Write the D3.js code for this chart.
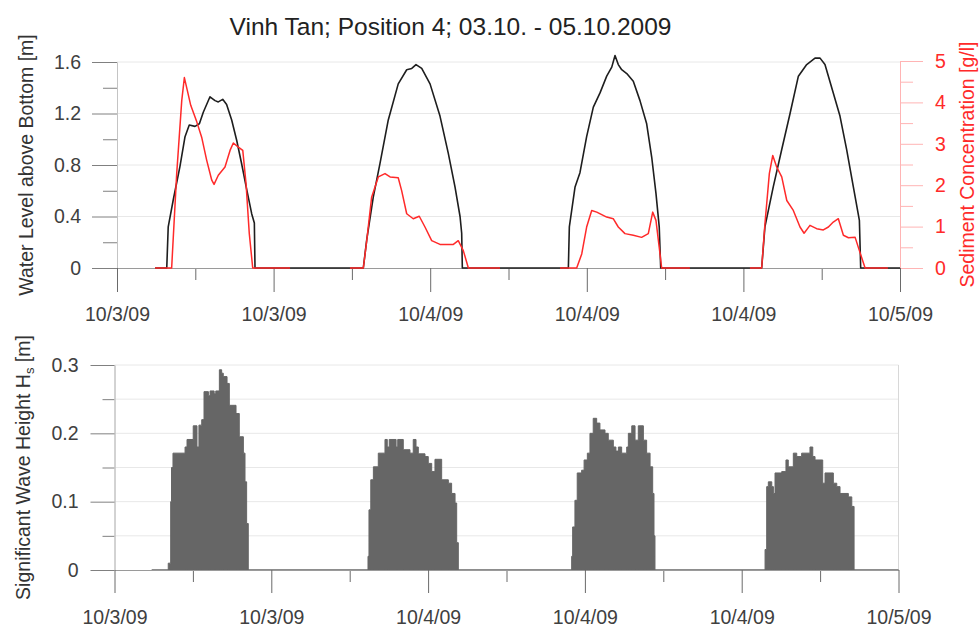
<!DOCTYPE html>
<html>
<head>
<meta charset="utf-8">
<script src="https://cdn.jsdelivr.net/npm/d3@7"></script>
<style>
  body { margin: 0; background: #fff; }
  text { font-family: "Liberation Sans", Arial, sans-serif; }
</style>
</head>
<body>
<svg id="chart" width="979" height="626"></svg>
<script>
// Time is given in hours from the left end of the time axis (axis spans 48 h).
const hourTicks = [0, 9.6, 19.2, 28.8, 38.4, 48];
const hourMinorTicks = [4.8, 14.4, 24, 33.6, 43.2];
const dateLabels = ["10/3/09", "10/3/09", "10/4/09", "10/4/09", "10/4/09", "10/5/09"];

const levelTicks = [0, 0.4, 0.8, 1.2, 1.6];
const levelMinorTicks = [0.2, 0.6, 1.0, 1.4];
const sedimentTicks = [0, 1, 2, 3, 4, 5];
const sedimentMinorTicks = [0.5, 1.5, 2.5, 3.5, 4.5];
const waveTicks = [0, 0.1, 0.2, 0.3];
const waveMinorTicks = [0.05, 0.15, 0.25];

// Water level above bottom [m]
const levelHours = [
  2.33, 3.05, 3.14, 3.45, 3.86, 4.17, 4.43, 4.78, 5.05, 5.29, 5.70, 6.01, 6.21, 6.48, 6.72, 7.03, 7.34, 7.64, 7.95, 8.26, 8.42, 8.46,
  15.10, 15.31, 15.71, 16.12, 16.63, 17.24, 17.76, 18.07, 18.33, 18.68, 19.19, 19.80, 20.31, 20.72, 21.03, 21.13, 21.17,
  27.67, 27.73, 28.08, 28.38, 28.79, 29.20, 29.61, 30.02, 30.33, 30.53, 30.73, 30.94, 31.25, 31.65, 32.06, 32.47, 32.78, 33.04, 33.24, 33.33,
  39.52, 39.72, 40.23, 40.75, 41.26, 41.77, 42.28, 42.79, 43.10, 43.40, 43.91, 44.32, 44.73, 45.14, 45.51, 45.59, 48.0
];
const levelValues = [
  0, 0, 0.32, 0.53, 0.79, 1.02, 1.11, 1.10, 1.12, 1.21, 1.33, 1.30, 1.29, 1.31, 1.27, 1.15, 0.99, 0.81, 0.61, 0.42, 0.35, 0,
  0, 0.22, 0.55, 0.81, 1.15, 1.43, 1.54, 1.55, 1.58, 1.55, 1.43, 1.18, 0.89, 0.63, 0.40, 0.27, 0,
  0, 0.32, 0.63, 0.74, 1.02, 1.25, 1.36, 1.49, 1.56, 1.65, 1.58, 1.54, 1.51, 1.45, 1.30, 1.12, 0.86, 0.58, 0.32, 0,
  0, 0.32, 0.63, 0.92, 1.20, 1.49, 1.58, 1.63, 1.63, 1.58, 1.36, 1.18, 0.92, 0.63, 0.37, 0, 0
];

// Sediment concentration [g/l]; null marks gaps in the record
const sedimentHours = [
  2.33, 3.35, 3.66, 3.97, 4.13, 4.31, 4.52, 4.89, 5.19, 5.50, 5.81, 5.95, 6.21, 6.62, 6.93, 7.13, 7.44, 7.71, 7.91, 8.11, 8.32, 10.61, 10.7,
  14.28, 15.10, 15.31, 15.61, 16.02, 16.43, 16.74, 17.24, 17.45, 17.76, 18.16, 18.53, 18.88, 19.29, 19.80, 20.62, 20.92, 21.23, 21.54, 23.48, 23.6,
  27.16, 28.18, 28.49, 28.79, 29.10, 29.41, 30.02, 30.42, 30.73, 31.14, 31.65, 32.16, 32.57, 32.84, 33.04, 33.24, 33.39, 35.12, 35.2,
  38.80, 39.52, 39.72, 39.99, 40.20, 40.44, 40.75, 41.06, 41.46, 41.87, 42.12, 42.48, 42.89, 43.30, 43.61, 43.91, 44.22, 44.53, 44.84, 45.25, 45.51, 45.86, 47.26
];
const sedimentValues = [
  0, 0, 2.28, 4.05, 4.60, 4.29, 3.93, 3.53, 3.16, 2.60, 2.12, 2.02, 2.24, 2.44, 2.84, 3.02, 2.92, 2.84, 2.04, 0.83, 0, 0, null,
  0, 0, 0.66, 1.71, 2.20, 2.28, 2.20, 2.18, 1.87, 1.31, 1.19, 1.25, 0.99, 0.66, 0.57, 0.57, 0.66, 0.42, 0, 0, null,
  0, 0, 0.34, 0.99, 1.39, 1.35, 1.23, 1.19, 0.99, 0.83, 0.79, 0.74, 0.83, 1.35, 1.15, 0.50, 0, 0, null,
  0, 0, 1.07, 2.28, 2.72, 2.44, 2.20, 1.63, 1.39, 0.99, 0.84, 1.03, 0.95, 0.92, 0.99, 1.11, 1.19, 0.79, 0.73, 0.74, 0.42, 0, 0
];

// Significant wave height Hs [m], one value per interval starting at the given hour
const waveHours = [
  2.28, 3.29, 3.44, 3.49, 3.58, 4.32, 4.44, 4.82, 5.05, 5.17, 5.34, 5.48, 5.75, 5.85, 6.10, 6.20, 6.42, 6.56, 6.66, 6.89, 7.03, 7.44, 7.64, 7.89, 7.99, 8.09, 8.19,
  15.52, 15.58, 15.69, 15.85, 16.15, 16.56, 16.70, 16.82, 17.24, 17.34, 17.68, 18.09, 18.29, 18.46, 18.60, 19.01, 19.21, 19.42, 19.62, 20.03, 20.44, 20.64, 20.85, 20.95, 21.05,
  27.99, 28.05, 28.19, 28.33, 28.60, 28.75, 28.95, 29.11, 29.31, 29.52, 29.72, 30.03, 30.23, 30.54, 30.70, 30.85, 31.05, 31.36, 31.46, 31.67, 31.87, 32.07, 32.38, 32.58, 32.79, 32.95, 33.03, 33.09,
  39.83, 39.93, 40.03, 40.24, 40.34, 40.44, 40.85, 41.11, 41.25, 41.56, 41.77, 42.07, 42.58, 42.75, 42.89, 43.36, 43.50, 44.01, 44.22, 44.42, 44.93, 45.14, 45.28, 48.0
];
const waveValues = [
  0, 0.01, 0.10, 0.15, 0.171, 0.18, 0.191, 0.211, 0.18, 0.212, 0.22, 0.261, 0.255, 0.262, 0.258, 0.262, 0.293, 0.288, 0.283, 0.273, 0.241, 0.229, 0.195, 0.171, 0.129, 0.068, 0,
  0.02, 0.088, 0.132, 0.151, 0.171, 0.191, 0.18, 0.191, 0.18, 0.191, 0.176, 0.171, 0.191, 0.18, 0.17, 0.166, 0.156, 0.144, 0.162, 0.132, 0.127, 0.112, 0.098, 0.04, 0,
  0.02, 0.063, 0.102, 0.142, 0.146, 0.161, 0.171, 0.20, 0.222, 0.215, 0.205, 0.20, 0.19, 0.18, 0.174, 0.18, 0.171, 0.18, 0.20, 0.211, 0.19, 0.211, 0.19, 0.171, 0.151, 0.112, 0.05, 0,
  0.03, 0.122, 0.129, 0.122, 0.112, 0.142, 0.144, 0.161, 0.151, 0.171, 0.166, 0.171, 0.18, 0.166, 0.161, 0.127, 0.142, 0.127, 0.122, 0.112, 0.107, 0.093, 0, 0
];

const levelData = levelHours.map((h, i) => ({ h, v: levelValues[i] }));
const sedimentData = sedimentHours.map((h, i) => ({ h, v: sedimentValues[i] }));
const waveData = waveHours.map((h, i) => ({ h, v: waveValues[i] }));

const svg = d3.select("#chart");
svg.append("rect").attr("width", 979).attr("height", 626).attr("fill", "#fff");

const FS = 19.5;
const GRID = "#e8e8e8";
const AXIS_LINE = "#c4c4c4";
const TICK = "#808080";
const LABEL = "#404040";
const RED = "#ff2a2a";
const PINK = "#ffb4b4";

function styleAxis(g, lineColor, tickColor, textColor) {
  g.select(".domain").attr("stroke", lineColor);
  g.selectAll(".tick line").attr("stroke", tickColor);
  g.selectAll(".tick text").attr("fill", textColor).attr("font-size", FS)
    .attr("font-family", '"Liberation Sans", Arial, sans-serif');
}
const numFmt = d => d === 0 ? "0" : String(d);

// ---------- Top panel: water level and sediment concentration ----------
const topX = d3.scaleLinear().domain([0, 48]).range([117, 900]);
const yLevel = d3.scaleLinear().domain([0, 1.6]).range([268, 62]);
const ySed = d3.scaleLinear().domain([0, 5]).range([268, 61]);

svg.append("g").selectAll("line").data(levelTicks.filter(d => d > 0)).join("line")
  .attr("x1", topX(0)).attr("x2", topX(48))
  .attr("y1", d => yLevel(d)).attr("y2", d => yLevel(d))
  .attr("stroke", GRID).attr("stroke-width", 1);

// left axis
svg.append("g").attr("transform", `translate(${topX(0)},0)`)
  .call(d3.axisLeft(yLevel).tickValues(levelMinorTicks).tickSize(14).tickSizeOuter(0).tickFormat(""))
  .call(g => styleAxis(g, AXIS_LINE, TICK, LABEL));
svg.append("g").attr("transform", `translate(${topX(0)},0)`)
  .call(d3.axisLeft(yLevel).tickValues(levelTicks).tickSize(25).tickSizeOuter(0).tickPadding(11).tickFormat(numFmt))
  .call(g => styleAxis(g, AXIS_LINE, TICK, LABEL));

// right axis
svg.append("g").attr("transform", `translate(${topX(48)},0)`)
  .call(d3.axisRight(ySed).tickValues(sedimentMinorTicks).tickSize(13).tickSizeOuter(0).tickFormat(""))
  .call(g => styleAxis(g, PINK, PINK, RED));
svg.append("g").attr("transform", `translate(${topX(48)},0)`)
  .call(d3.axisRight(ySed).tickValues(sedimentTicks).tickSize(23).tickSizeOuter(0).tickPadding(12).tickFormat(numFmt))
  .call(g => styleAxis(g, PINK, PINK, RED));

// bottom time axis
svg.append("g").attr("transform", `translate(0,${yLevel(0)})`)
  .call(d3.axisBottom(topX).tickValues(hourMinorTicks).tickSize(12).tickSizeOuter(0).tickFormat(""))
  .call(g => styleAxis(g, "#9a9a9a", "#6a6a6a", LABEL));
svg.append("g").attr("transform", `translate(0,${yLevel(0)})`)
  .call(d3.axisBottom(topX).tickValues(hourTicks).tickSize(24).tickSizeOuter(0).tickFormat((d, i) => dateLabels[i]))
  .call(g => styleAxis(g, "#9a9a9a", "#6a6a6a", LABEL))
  .call(g => g.selectAll(".tick text").attr("y", 53).attr("dy", 0));

// series
svg.append("path").datum(levelData)
  .attr("fill", "none").attr("stroke", "#1e1e1e").attr("stroke-width", 1.6).attr("stroke-linejoin", "round")
  .attr("d", d3.line().x(d => topX(d.h)).y(d => yLevel(d.v)));
svg.append("path").datum(sedimentData)
  .attr("fill", "none").attr("stroke", RED).attr("stroke-width", 1.5).attr("stroke-linejoin", "round")
  .attr("d", d3.line().defined(d => d.v !== null).x(d => topX(d.h)).y(d => ySed(d.v)));

// ---------- Bottom panel: significant wave height ----------
const botX = d3.scaleLinear().domain([0, 48]).range([114.5, 898.5]);
const yWave = d3.scaleLinear().domain([0, 0.3]).range([570, 365]);

const waveGrid = [0.05, 0.1, 0.15, 0.2, 0.25, 0.3];
svg.append("g").selectAll("line").data(waveGrid).join("line")
  .attr("x1", botX(0)).attr("x2", botX(48))
  .attr("y1", d => yWave(d)).attr("y2", d => yWave(d))
  .attr("stroke", GRID).attr("stroke-width", 1);
svg.append("line")
  .attr("x1", botX(48)).attr("x2", botX(48)).attr("y1", yWave(0.3)).attr("y2", yWave(0))
  .attr("stroke", "#d8d8d8");

svg.append("g").attr("transform", `translate(${botX(0)},0)`)
  .call(d3.axisLeft(yWave).tickValues(waveMinorTicks).tickSize(12).tickSizeOuter(0).tickFormat(""))
  .call(g => styleAxis(g, AXIS_LINE, TICK, LABEL));
svg.append("g").attr("transform", `translate(${botX(0)},0)`)
  .call(d3.axisLeft(yWave).tickValues(waveTicks).tickSize(24).tickSizeOuter(0).tickPadding(12).tickFormat(numFmt))
  .call(g => styleAxis(g, AXIS_LINE, TICK, LABEL));

svg.append("path").datum(waveData)
  .attr("fill", "#666").attr("stroke", "#666").attr("stroke-width", 1)
  .attr("d", d3.area().curve(d3.curveStepAfter).x(d => botX(d.h)).y0(yWave(0)).y1(d => yWave(d.v)));

svg.append("g").attr("transform", `translate(0,${yWave(0)})`)
  .call(d3.axisBottom(botX).tickValues(hourMinorTicks).tickSize(12).tickSizeOuter(0).tickFormat(""))
  .call(g => styleAxis(g, "#9a9a9a", "#6a6a6a", LABEL));
svg.append("g").attr("transform", `translate(0,${yWave(0)})`)
  .call(d3.axisBottom(botX).tickValues(hourTicks).tickSize(23).tickSizeOuter(0).tickFormat((d, i) => dateLabels[i]))
  .call(g => styleAxis(g, "#9a9a9a", "#6a6a6a", LABEL))
  .call(g => g.selectAll(".tick text").attr("y", 53.5).attr("dy", 0));

// ---------- Titles ----------
svg.append("text").attr("x", 450.5).attr("y", 35).attr("text-anchor", "middle")
  .attr("font-size", 24.5).attr("fill", "#222")
  .text("Vinh Tan; Position 4; 03.10. - 05.10.2009");

svg.append("text")
  .attr("transform", `translate(33,${(yLevel(0) + yLevel(1.6)) / 2}) rotate(-90)`)
  .attr("text-anchor", "middle").attr("font-size", FS).attr("fill", "#333")
  .text("Water Level above Bottom [m]");

svg.append("text")
  .attr("transform", `translate(974,${(ySed(0) + ySed(5)) / 2}) rotate(-90)`)
  .attr("text-anchor", "middle").attr("font-size", FS).attr("fill", RED)
  .text("Sediment Concentration [g/l]");

const waveTitle = svg.append("text")
  .attr("transform", `translate(30,${(yWave(0) + yWave(0.3)) / 2}) rotate(-90)`)
  .attr("text-anchor", "middle").attr("font-size", FS).attr("fill", "#333");
waveTitle.append("tspan").text("Significant Wave Height H");
waveTitle.append("tspan").attr("font-size", 13).attr("dy", 4).text("s");
waveTitle.append("tspan").attr("dy", -4).text(" [m]");
</script>
</body>
</html>
